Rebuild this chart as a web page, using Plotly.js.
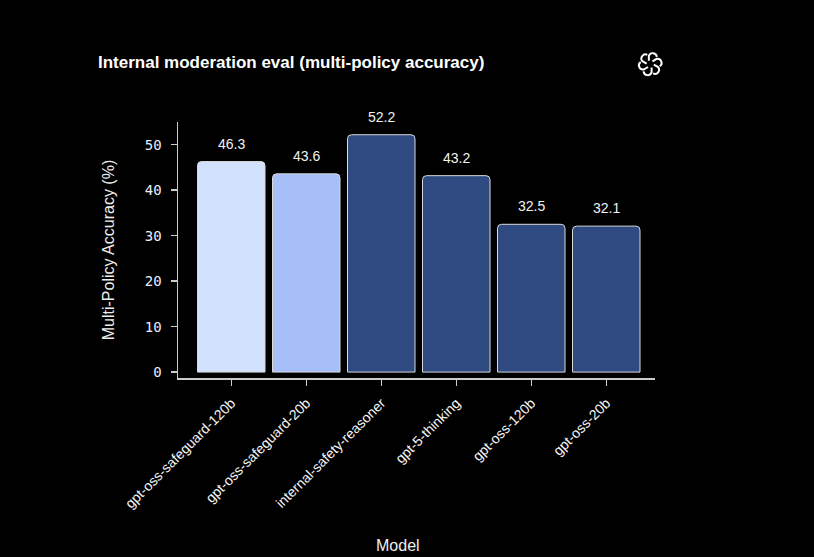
<!DOCTYPE html>
<html><head><meta charset="utf-8">
<script src="https://cdn.plot.ly/plotly-3.0.1.min.js"></script>
<style>html,body{margin:0;padding:0;background:#000;}#chart{width:814px;height:557px;}</style>
</head><body><div id="chart"></div>
<script>
const models = ["gpt-oss-safeguard-120b","gpt-oss-safeguard-20b","internal-safety-reasoner","gpt-5-thinking","gpt-oss-120b","gpt-oss-20b"];
const accuracy = [46.3, 43.6, 52.2, 43.2, 32.5, 32.1];
const barColors = ["#d2e1fd","#a6bff8","#2e4a80","#2e4a80","#2e4a80","#2e4a80"];
const yTicks = [0,10,20,30,40,50];

const logoSvg = '<svg xmlns="http://www.w3.org/2000/svg" viewBox="-50 -50 100 100"><g fill="none" stroke="white" stroke-width="7">' +
  [0,60,120,180,240,300].map(a => '<path d="M -5 -12 L -5 -30 A 15 15 0 0 1 24 -26" transform="rotate(' + a + ')"/>').join('') +
  '</g></svg>';

const trace = {
  type: "bar", x: models, y: accuracy,
  marker: {color: barColors, line: {color: "#d9d9d9", width: 1}, cornerradius: 4},
  width: 0.9, hoverinfo: "skip"
};
const annotations = models.map((m, i) => ({
  x: m, y: accuracy[i], xref: "x", yref: "y", text: accuracy[i].toFixed(1),
  showarrow: false, yanchor: "bottom", yshift: 8,
  font: {family: "Liberation Sans, Arial, sans-serif", size: 14, color: "#f2f2f2"}
}));
annotations.push({
  text: "Model", xref: "paper", yref: "paper", x: 0.461, y: -0.655, showarrow: false,
  xanchor: "center", yanchor: "middle",
  font: {family: "Liberation Sans, Arial, sans-serif", size: 16, color: "#eeeeee"}
});
const layout = {
  width: 814, height: 557,
  paper_bgcolor: "#000", plot_bgcolor: "#000",
  margin: {l: 178, r: 159, t: 122, b: 179},
  title: {text: "<b>Internal moderation eval (multi-policy accuracy)</b>", xref: "container", yref: "container",
    x: 0.1204, xanchor: "left", y: 0.889, yanchor: "middle",
    font: {family: "Liberation Sans, Arial, sans-serif", size: 17, color: "#ffffff"}},
  showlegend: false,
  xaxis: {
    type: "category", range: [-0.71, 5.65], showgrid: false, zeroline: false,
    showline: true, linecolor: "#cccccc", linewidth: 1.5,
    ticks: "outside", ticklen: 6, tickcolor: "#cccccc", tickwidth: 1.5,
    tickangle: -45, ticklabelstandoff: 4,
    tickfont: {family: "Liberation Sans, Arial, sans-serif", size: 14, color: "#f7f7f7"}
  },
  yaxis: {
    range: [-1.3, 55], showgrid: false, zeroline: false,
    showline: true, linecolor: "#cccccc", linewidth: 1.5,
    ticks: "outside", ticklen: 6, tickcolor: "#cccccc", tickwidth: 1.5,
    tickvals: yTicks, ticktext: yTicks.map(String), ticklabelstandoff: 6,
    tickfont: {family: "DejaVu Sans Mono, monospace", size: 14, color: "#e8eeff"},
    title: {text: "Multi-Policy Accuracy (%)", standoff: 26,
      font: {family: "Liberation Sans, Arial, sans-serif", size: 16, color: "#eeeeee"}}
  },
  annotations: annotations,
  images: [{source: "data:image/svg+xml;utf8," + encodeURIComponent(logoSvg),
    xref: "paper", yref: "paper", x: 0.99, y: 1.226, sizex: 0.058, sizey: 0.11,
    xanchor: "center", yanchor: "middle", sizing: "contain"}]
};
Plotly.newPlot("chart", [trace], layout, {displayModeBar: false, staticPlot: true});
</script></body></html>
